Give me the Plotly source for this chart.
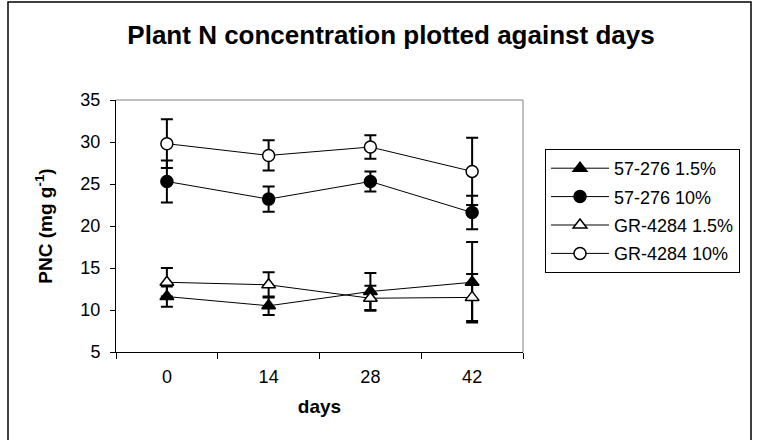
import plotly.graph_objects as go

days = ["0", "14", "28", "42"]
series_names = ["57-276 1.5%", "57-276 10%", "GR-4284 1.5%", "GR-4284 10%"]
v_57_15 = [11.6, 10.5, 12.2, 13.3]
e_57_15 = [1.2, 1.1, 2.2, 4.8]
v_57_10 = [25.3, 23.2, 25.3, 21.6]
e_57_10 = [2.5, 1.5, 1.2, 2.0]
v_gr_15 = [13.3, 13.0, 11.4, 11.5]
e_gr_15 = [1.7, 1.5, 1.5, 2.8]
v_gr_10 = [29.8, 28.4, 29.4, 26.5]
e_gr_10 = [2.9, 1.8, 1.4, 4.0]

FONT = "Liberation Sans, Arial, sans-serif"

styles = [
    ("triangle-up", "black"),
    ("circle", "black"),
    ("triangle-up", "white"),
    ("circle", "white"),
]
values = [v_57_15, v_57_10, v_gr_15, v_gr_10]
errors = [e_57_15, e_57_10, e_gr_15, e_gr_10]

fig = go.Figure()
for i, (name, vals, errs, (sym, fill)) in enumerate(zip(series_names, values, errors, styles)):
    fig.add_trace(go.Scatter(
        x=days, y=vals, name=name, mode="lines+markers",
        legendgroup=f"g{i}",
        line=dict(color="black", width=1),
        marker=dict(symbol=sym, size=12, color=fill, line=dict(color="black", width=1.5)),
        error_y=dict(type="data", array=errs, visible=True, color="black", thickness=2, width=6),
    ))

# plot area: x 116..523, y 100..352
L, R, T, B = 116, 758 - 523, 100, 440 - 352
pw, ph = 758 - L - R, 440 - T - B

def px(x):
    return (x - L) / pw

def py(y):
    return (440 - B - y) / ph

fig.update_layout(
    width=758, height=440,
    margin=dict(l=L, r=R, t=T, b=B),
    paper_bgcolor="white", plot_bgcolor="white",
    font=dict(family=FONT, color="black", size=18),
    title=dict(text="<b>Plant N concentration plotted against days</b>",
               x=391 / 758, xanchor="center", y=1 - 35 / 440, yanchor="middle",
               font=dict(size=26, family=FONT, color="black")),
    showlegend=True,
    legend=dict(x=px(545), xanchor="left", y=py(149), yanchor="top",
                bordercolor="black", borderwidth=1, bgcolor="white",
                font=dict(size=18, family=FONT), tracegroupgap=2,
                itemwidth=58),
    xaxis=dict(type="category", categoryorder="array", categoryarray=days,
               range=[-0.5, 3.5], showgrid=False, zeroline=False,
               showline=True, linecolor="black", linewidth=1,
               ticks="outside", ticklen=6, tickcolor="black", tickson="boundaries",
               ticklabelstandoff=8, tickfont=dict(size=18),
               title=dict(text="<b>days</b>", standoff=14, font=dict(size=19))),
    yaxis=dict(range=[5, 35], dtick=5, showgrid=False, zeroline=False,
               showline=True, linecolor="black", linewidth=1,
               ticks="outside", ticklen=5, tickcolor="black",
               ticklabelstandoff=6, tickfont=dict(size=18),
               title=dict(text="<b>PNC (mg g<sup>-1</sup>)</b>", standoff=22, font=dict(size=19))),
    shapes=[
        dict(type="line", xref="paper", yref="paper", x0=0, x1=1, y0=1, y1=1,
             line=dict(color="#808080", width=1)),
        dict(type="line", xref="paper", yref="paper", x0=1, x1=1, y0=0, y1=1,
             line=dict(color="#808080", width=1)),
        dict(type="rect", xref="paper", yref="paper",
             x0=px(8), x1=px(751), y0=py(446), y1=py(2),
             line=dict(color="black", width=1.5), fillcolor="rgba(0,0,0,0)"),
    ],
)

fig.write_html("out.html")
